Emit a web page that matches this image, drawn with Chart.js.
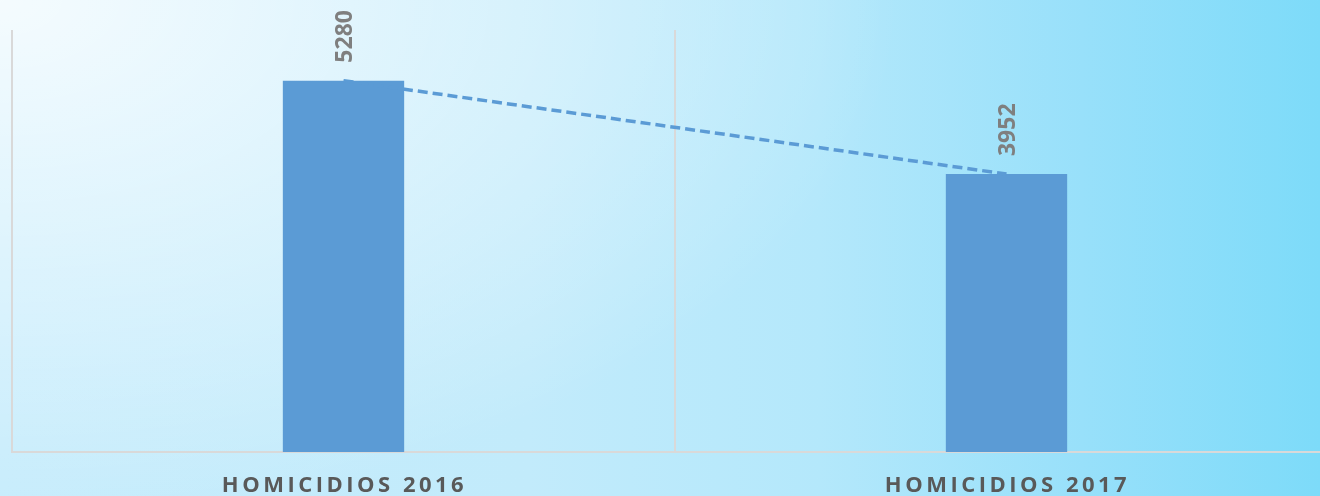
<!DOCTYPE html>
<html>
<head>
<meta charset="utf-8">
<script src="https://cdn.jsdelivr.net/npm/chart.js@4.4.1/dist/chart.umd.min.js"></script>
<style>
  html, body { margin: 0; padding: 0; overflow: hidden; }
  body {
    width: 1320px; height: 496px;
    background:
      radial-gradient(ellipse 900px 520px at 0 0, rgba(255,255,255,0.82), rgba(255,255,255,0) 100%),
      linear-gradient(to right, #c6ecfc 0%, #c2ebfb 40%, #b4e8fb 62%, #98e0fa 82%, #7ddbf9 100%);
  }
  #wrap { position: relative; width: 1340px; height: 496px; }
</style>
</head>
<body>
<div id="wrap"><canvas id="chart"></canvas></div>
<script>
const categories = ['HOMICIDIOS 2016', 'HOMICIDIOS 2017'];
const homicidios = [5280, 3952];
const tendencia = [5280, 3952];

const BAR = '#5b9bd5';

// rotated value labels above the bars + spaced category labels
const labelsPlugin = {
    id: 'labels',
    afterDatasetsDraw: (chart) => {
        const ctx = chart.ctx;
        const meta = chart.getDatasetMeta(0);
        ctx.save();
        ctx.fillStyle = '#7f7f7f';
        ctx.font = 'bold 23px "Open Sans"';
        ctx.textAlign = 'left';
        ctx.textBaseline = 'middle';
        meta.data.forEach((bar, i) => {
            ctx.save();
            ctx.translate(bar.x + 2, bar.y - 18);
            ctx.rotate(-Math.PI / 2);
            ctx.fillText(String(homicidios[i]), 0, 0);
            ctx.restore();
        });
        ctx.restore();

        const x = chart.scales.x;
        ctx.save();
        ctx.fillStyle = '#595959';
        ctx.font = 'bold 22px "Open Sans"';
        ctx.letterSpacing = '3.5px';
        ctx.textAlign = 'center';
        ctx.textBaseline = 'middle';
        categories.forEach((c, i) => {
            ctx.fillText(c, x.getPixelForValue(i) + 1, 486);
        });
        ctx.restore();
    }
};

new Chart(document.getElementById('chart'), {
    data: {
        labels: categories,
        datasets: [
            {
                type: 'line',
                data: tendencia,
                borderColor: BAR,
                borderWidth: 3.5,
                borderDash: [10, 5],
                pointRadius: 0,
                fill: false,
                order: 0
            },
            {
                type: 'bar',
                data: homicidios,
                backgroundColor: BAR,
                categoryPercentage: 1,
                barPercentage: 0.183,
                order: 1
            }
        ]
    },
    options: {
        responsive: true,
        maintainAspectRatio: false,
        animation: false,
        layout: { padding: { left: 12, top: 30, right: 2, bottom: 44 } },
        plugins: { legend: { display: false }, tooltip: { enabled: false } },
        scales: {
            x: {
                offset: true,
                grid: { offset: true, color: '#d9d9d9', lineWidth: 2, drawTicks: false },
                border: { color: '#d9d9d9', width: 2 },
                ticks: { display: false }
            },
            y: {
                display: false,
                min: 0,
                max: 6000
            }
        }
    },
    plugins: [labelsPlugin]
});
</script>
</body>
</html>
